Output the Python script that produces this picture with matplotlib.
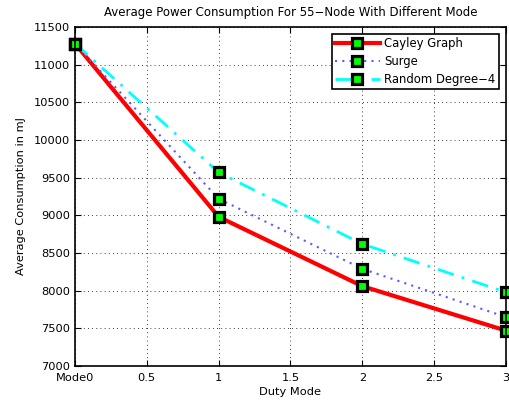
import matplotlib
matplotlib.use("Agg")
import matplotlib.pyplot as plt

x = [0, 1, 2, 3]
cayley = [11280, 8980, 8060, 7470]
surge = [11280, 9220, 8290, 7650]
random4 = [11280, 9570, 8620, 7980]
xticks = [0, 0.5, 1, 1.5, 2, 2.5, 3]
xticklabels = ["Mode0", "0.5", "1", "1.5", "2", "2.5", "3"]
yticks = [7000, 7500, 8000, 8500, 9000, 9500, 10000, 10500, 11000, 11500]

fig = plt.figure(figsize=(5.1, 4.07), dpi=100)
ax = fig.add_axes([0.147, 0.1007, 0.845, 0.833])

mk = dict(marker='s', markersize=7, markerfacecolor='#00ff00',
          markeredgecolor='black', markeredgewidth=2.3, clip_on=False)
ax.plot(x, cayley, color='red', lw=3, ls='-', label='Cayley Graph', **mk)
ax.plot(x, surge, color='#5a5aff', lw=1.5, ls=(0, (1, 2.5)), label='Surge', **mk)
ax.plot(x, random4, color='cyan', lw=2, ls=(0, (6, 3, 1, 3)), label='Random Degree-4', **mk)

ax.set_xlim(0, 3)
ax.set_ylim(7000, 11500)
ax.set_xticks(xticks)
ax.set_xticklabels(xticklabels)
ax.set_yticks(yticks)
ax.tick_params(direction='in', top=True, right=True, labelsize=8.2, length=4, width=0.8)
ax.tick_params(axis='x', pad=5)
ax.grid(True, color='black', ls=(0, (1, 4)), lw=0.6)
for s in ax.spines.values():
    s.set_linewidth(1.2)

ax.set_title('Average Power Consumption For 55\u2212Node With Different Mode', fontsize=8.5, pad=8)
ax.set_xlabel('Duty Mode', fontsize=8.2, labelpad=3)
ax.set_ylabel('Average Consumption in mJ', fontsize=8.2, labelpad=6)

leg = ax.legend(loc='upper right', fontsize=8.4, fancybox=False, framealpha=1,
                edgecolor='black', handlelength=3.8, handletextpad=0.4,
                labelspacing=0.4, borderpad=0.3, borderaxespad=0.6)
leg.get_frame().set_linewidth(1.2)
for t in leg.get_texts():
    t.set_text(t.get_text().replace('-', '\u2212'))

fig.savefig('out.png', dpi=100)
